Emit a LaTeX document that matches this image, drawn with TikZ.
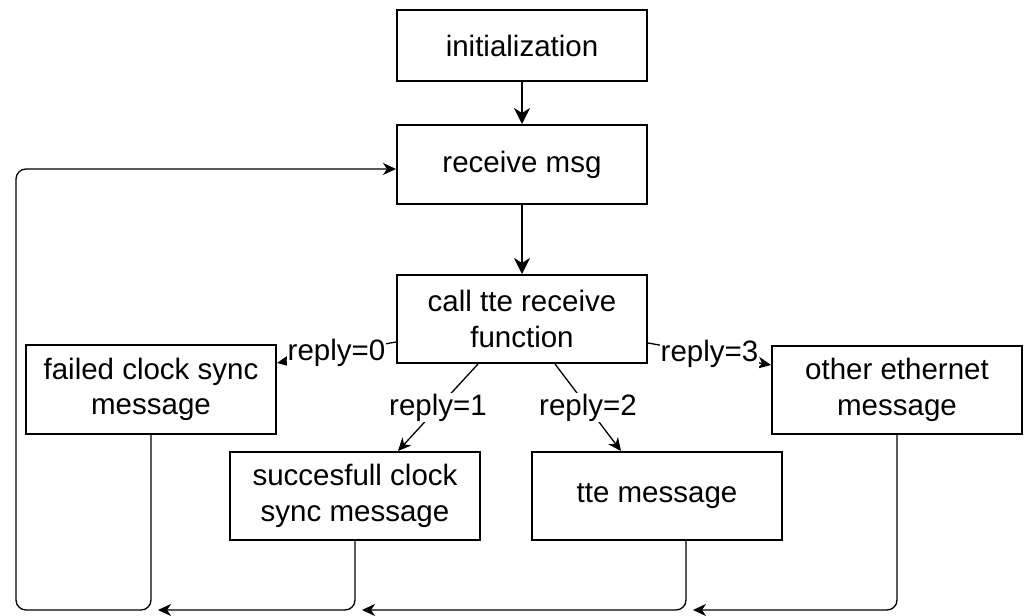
\documentclass[tikz,border=0pt]{standalone}
\usepackage{fontspec}
\setmainfont{Liberation Sans}
\usetikzlibrary{arrows.meta,calc}
\begin{document}
\begin{tikzpicture}[x=1pt,y=-1pt,
  box/.style={draw, line width=2pt, minimum width=250pt, align=center, inner sep=2pt,
    font=\fontsize{29.5}{35.4}\selectfont},
  mainarrow/.style={line width=2pt, -{Stealth[length=16pt,width=16pt,inset=5pt]}},
  thinarrow/.style={line width=1.3pt, -{Stealth[length=13pt,width=12pt,inset=4pt]}},
  looparrow/.style={thinarrow, rounded corners=10pt},
  lbl/.style={fill=white, inner sep=1pt, font=\fontsize{29.5}{35.4}\selectfont}
]
\useasboundingbox (0,0) rectangle (1026,616);

% states
\node[box, minimum height=71pt] (init)   at (522,45.5)  {initialization};
\node[box, minimum height=79pt] (recv)   at (522,164.5) {receive msg};
\node[box, minimum height=88pt] (call)   at (522,319)   {call tte receive\\function};
\node[box, minimum height=89pt] (failed) at (151,389.5) {failed clock sync\\message};
\node[box, minimum height=88pt] (other)  at (897,390)   {other ethernet\\message};
\node[box, minimum height=88pt] (succ)   at (355,496)   {succesfull clock\\sync message};
\node[box, minimum height=88pt] (tte)    at (657,496)   {tte message};

% main flow
\draw[mainarrow] (init) -- (recv);
\draw[mainarrow] (recv) -- (call);

% dispatch on the reply value
\draw[thinarrow] ($(call.west)+(0,23)$) -- node[lbl] {reply=0} ($(failed.east)+(0,-26.5)$);
\draw[thinarrow] ($(call.east)+(0,24)$) -- node[lbl] {reply=3} ($(other.west)+(0,-25)$);
\draw[thinarrow] ($(call.south)+(-44,0)$) -- node[lbl] {reply=1} ($(succ.north)+(43,0)$);
\draw[thinarrow] ($(call.south)+(33,0)$) -- node[lbl] {reply=2} ($(tte.north)+(-36,0)$);

% return paths
\coordinate (bottom) at (0,610);
\coordinate (leftrail) at (16,0);
\draw[looparrow] (failed.south) -- (failed.south |- bottom) -- (leftrail |- bottom)
  -- (leftrail |- 0,169) -- ($(recv.west)+(0,4.5)$);
\draw[looparrow] (succ.south) -- (succ.south |- bottom) -- ($(failed.south |- bottom)+(7,0)$);
\draw[looparrow] ($(tte.south)+(29,0)$) -- ($(tte.south |- bottom)+(29,0)$) -- ($(succ.south |- bottom)+(7,0)$);
\draw[looparrow] (other.south) -- (other.south |- bottom) -- ($(tte.south |- bottom)+(36,0)$);
\end{tikzpicture}
\end{document}
